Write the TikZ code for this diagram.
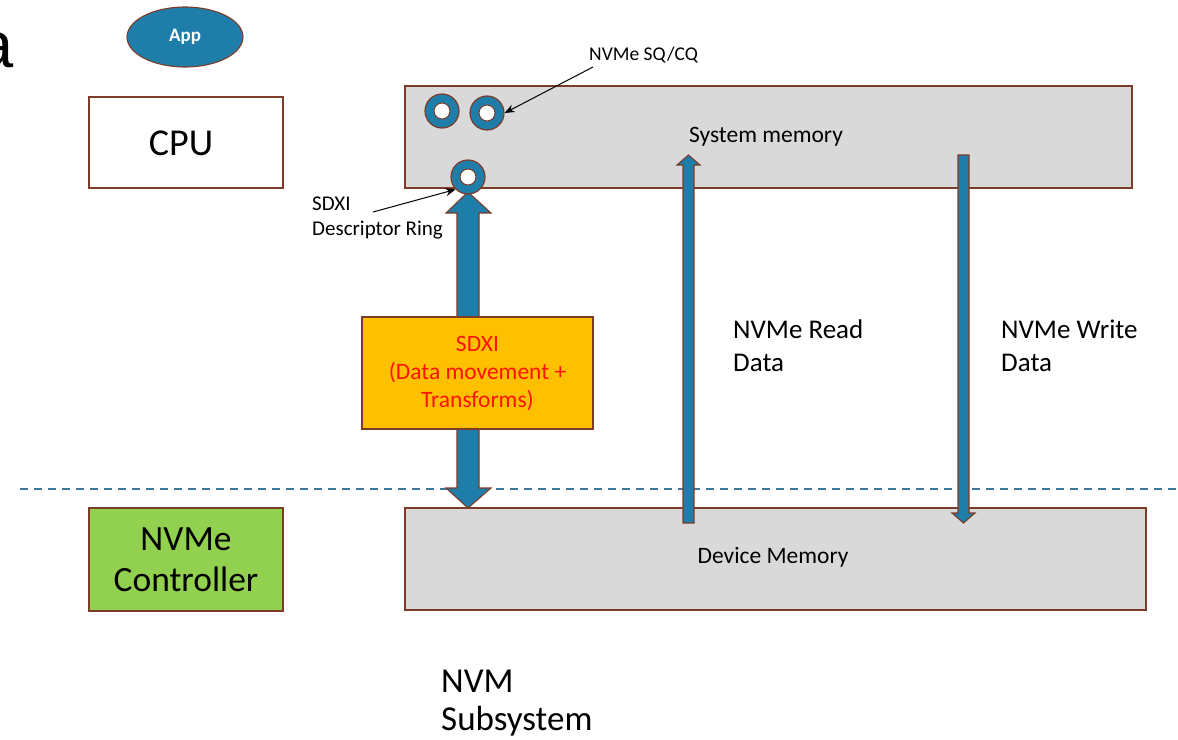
\documentclass[tikz,border=0pt]{standalone}
\usepackage{fontspec}
\setmainfont{Carlito}
\newfontfamily\arialfont{Liberation Sans}
\usetikzlibrary{arrows.meta,shapes.geometric}
\definecolor{brd}{RGB}{125,60,40}
\definecolor{ablue}{RGB}{31,125,170}
\definecolor{mgray}{RGB}{217,217,217}
\definecolor{sdxiorange}{RGB}{255,192,0}
\definecolor{nvgreen}{RGB}{146,208,80}
\definecolor{dashblue}{RGB}{60,120,150}
\definecolor{sdxired}{RGB}{255,20,0}
\begin{document}
\begin{tikzpicture}[x=1pt,y=-1pt,
  box/.style={draw=brd, line width=1.3pt, inner sep=0pt},
  ringo/.style={circle, draw=brd, line width=1.2pt, fill=ablue, minimum size=34pt, inner sep=0pt},
  ringi/.style={circle, draw=brd, line width=1pt, fill=white, minimum size=16pt, inner sep=0pt},
  fatarrow/.style={draw=brd, line width=1.1pt, fill=ablue, line join=miter},
  ptr/.style={draw=black, line width=1pt, -{Stealth[length=10pt,width=8pt]}},
  dashline/.style={draw=dashblue, line width=1.4pt, dash pattern=on 8pt off 6pt},
  lbl/.style={inner sep=0pt, align=left, text=black}]
\useasboundingbox (0,0) rectangle (1178,739);
\clip (0,0) rectangle (1178,739);

% partial letter at left edge
\node[anchor=base east, inner sep=0pt, font=\arialfont\fontsize{65}{70}\selectfont] (frag) at (14,67) {a};

% App
\node[ellipse, draw=brd, line width=1.1pt, fill=ablue, minimum width=116pt, minimum height=60pt, inner sep=0pt, text=white,
  font=\fontsize{19}{22}\selectfont\bfseries] (app) at (185,37) {App};

% CPU
\node[box, fill=white, minimum width=194pt, minimum height=91pt] (cpu) at (186,142.5) {};
\node[inner sep=0pt, font=\fontsize{38}{42}\selectfont] (cpulbl) at (181,143) {CPU};

% NVMe controller
\node[box, fill=nvgreen, minimum width=194pt, minimum height=103pt, align=center,
  font=\fontsize{35.5}{41}\selectfont] (ctrl) at (186,559.5) {NVMe\\Controller};

% System memory
\node[box, fill=mgray, minimum width=727pt, minimum height=102pt] (sysmem) at (768.5,137) {};
\node[inner sep=0pt, font=\fontsize{23.5}{27}\selectfont] (sysmemlbl) at (766,137) {System memory};

% Device memory
\node[box, fill=mgray, minimum width=741pt, minimum height=102pt] (devmem) at (775.5,559) {};
\node[inner sep=0pt, font=\fontsize{23.5}{27}\selectfont] (devmemlbl) at (773,557) {Device Memory};

% dashed boundary
\coordinate (dl) at (20,489);
\coordinate (dr) at (1178,489);
\draw[dashline] (dl) -- (dr);

% SDXI double arrow
\draw[fatarrow] (468,192) -- (491,213) -- (479,213) -- (479,488) -- (491,488) -- (468,508)
  -- (446,488) -- (457,488) -- (457,213) -- (446,213) -- cycle;

% NVMe read arrow (up)
\draw[fatarrow] (683,523) -- (694,523) -- (694,165) -- (700,165) -- (688.5,155) -- (677,165) -- (683,165) -- cycle;
% NVMe write arrow (down)
\draw[fatarrow] (958,155) -- (969,155) -- (969,513) -- (975,513) -- (963.5,523) -- (952,513) -- (958,513) -- cycle;

% SDXI box
\node[box, fill=sdxiorange, minimum width=231pt, minimum height=112pt, align=center, text=sdxired,
  font=\fontsize{23.5}{28}\selectfont] (sdxi) at (477.5,373) {SDXI\\(Data movement +\\Transforms)};

% rings
\node[ringo] (r1) at (442,111) {};
\node[ringi] (r1i) at (r1) {};
\node[ringo] (r2) at (487,113) {};
\node[ringi] (r2i) at (r2) {};
\node[ringo] (r3) at (468,177) {};
\node[ringi] (r3i) at (r3) {};

% labels
\node[lbl, anchor=west, font=\fontsize{19.5}{22}\selectfont] (sqcq) at (589,55) {NVMe SQ/CQ};
\coordinate (sqstart) at (593,67);
\draw[ptr] (sqstart) -- (r2.east);

\node[lbl, anchor=north west, font=\fontsize{21}{25}\selectfont] (desc) at (312,197) {SDXI\\Descriptor Ring};
\coordinate (dstart) at (373,212);
\draw[ptr] (dstart) -- (r3.south west);

\node[lbl, anchor=west, font=\fontsize{27}{33}\selectfont] (readlbl) at (733,345.5) {NVMe Read\\Data};
\node[lbl, anchor=west, font=\fontsize{27}{33}\selectfont] (writelbl) at (1001,345.5) {NVMe Write\\Data};
\node[lbl, anchor=west, font=\fontsize{35}{38}\selectfont] (nvmlbl) at (441,703) {NVM\\Subsystem};
\end{tikzpicture}
\end{document}
